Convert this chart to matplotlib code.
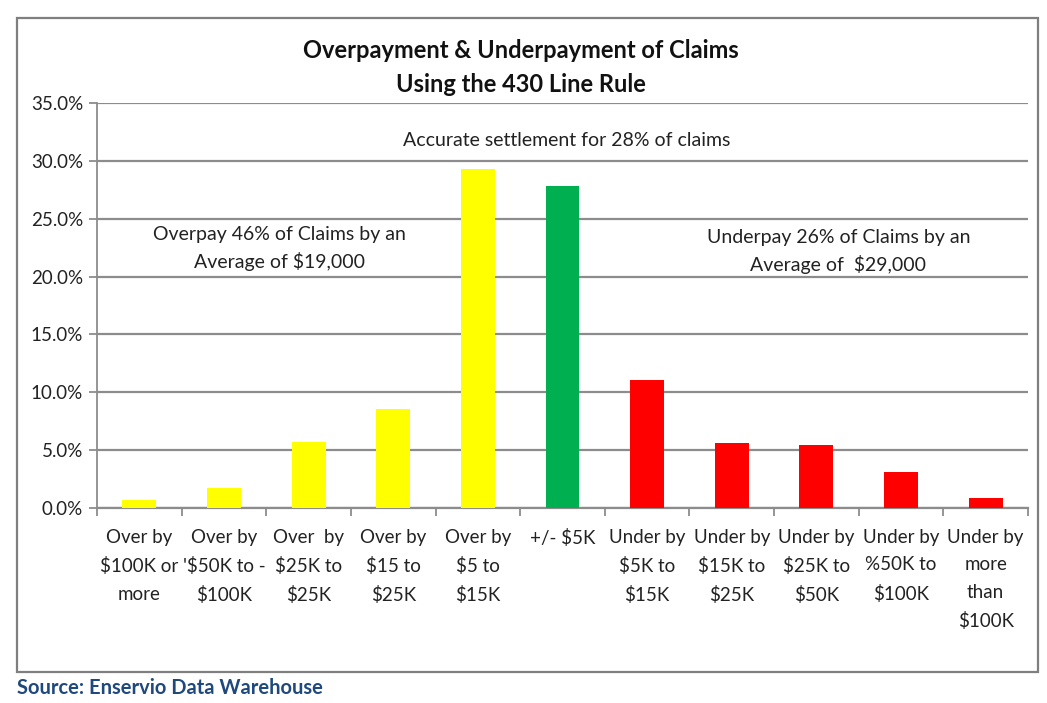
import numpy as np
import matplotlib
matplotlib.use("Agg")
import matplotlib.pyplot as plt
from matplotlib.patches import Rectangle

# data
categories = [
    "Over by\n$100K or\nmore",
    "Over by\n'$50K to -\n$100K",
    "Over  by\n$25K to\n$25K",
    "Over by\n$15 to\n$25K",
    "Over by\n$5 to\n$15K",
    "+/- $5K",
    "Under by\n$5K to\n$15K",
    "Under by\n$15K to\n$25K",
    "Under by\n$25K to\n$50K",
    "Under by\n%50K to\n$100K",
    "Under by\nmore\nthan\n$100K",
]
values = [0.7, 1.7, 5.7, 8.55, 29.3, 27.8, 11.1, 5.6, 5.45, 3.1, 0.85]
groups = ["over"] * 5 + ["ok"] + ["under"] * 5
group_colors = {"over": "#FFFF00", "ok": "#00B050", "under": "#FF0000"}
y_ticks = [0, 5, 10, 15, 20, 25, 30, 35]

plt.rcParams["font.family"] = ["Lato", "DejaVu Sans"]

fig = plt.figure(figsize=(10.47, 7.03), dpi=100)
ax = fig.add_axes([97 / 1047, 1 - 508 / 703, 931 / 1047, 405 / 703])

x = np.arange(len(categories))
ax.bar(x, values, width=0.4, color=[group_colors[g] for g in groups], zorder=3)

ax.set_xlim(-0.5, len(categories) - 0.5)
ax.set_ylim(0, 35)
ax.set_yticks(y_ticks)
ax.set_yticklabels([f"{t:.1f}%" for t in y_ticks], fontsize=13.5, color="#222222")
ax.yaxis.grid(True, color="#8c8c8c", linewidth=1.6, zorder=0)

# category labels centered, tick marks at category boundaries
ax.set_xticks(x)
ax.set_xticklabels(categories, fontsize=13.5, color="#222222", linespacing=1.75, va="top")
ax.tick_params(axis="x", length=0, pad=15)
ax.set_xticks(np.arange(-0.5, len(categories)), minor=True)
ax.tick_params(axis="x", which="minor", length=6, color="#8c8c8c", width=1.3)
ax.tick_params(axis="y", length=6, color="#8c8c8c", width=1.3, pad=4)

for side in ["top", "right"]:
    ax.spines[side].set_visible(False)
ax.spines["left"].set_color("#8c8c8c")
ax.spines["left"].set_linewidth(1.3)
ax.spines["bottom"].set_color("#8c8c8c")
ax.spines["bottom"].set_linewidth(1.6)

# notes inside the plot
ax.text(5.05, 31.8, "Accurate settlement for 28% of claims", ha="center", va="center", fontsize=14, color="#222222")
ax.text(1.66, 22.4, "Overpay 46% of Claims by an\nAverage of $19,000", ha="center", va="center",
        fontsize=14, color="#222222", linespacing=1.55)
ax.text(8.26, 22.2, "Underpay 26% of Claims by an\nAverage of  $29,000", ha="center", va="center",
        fontsize=14, color="#222222", linespacing=1.55)

fig.text(521 / 1047, 1 - 50 / 703, "Overpayment & Underpayment of Claims", ha="center", va="center",
         fontsize=17, fontweight="bold", color="#111111")
fig.text(521 / 1047, 1 - 84 / 703, "Using the 430 Line Rule", ha="center", va="center",
         fontsize=17, fontweight="bold", color="#111111")

# chart border
fig.patches.append(Rectangle((17 / 1047, 1 - 672 / 703), 1021 / 1047, 654 / 703,
                             transform=fig.transFigure, fill=False, edgecolor="#7f7f7f", linewidth=1.6))

fig.text(17 / 1047, 1 - 688 / 703, "Source: Enservio Data Warehouse", ha="left", va="center",
         fontsize=14.5, fontweight="bold", color="#1F497D")

fig.savefig("out.png", dpi=100)
